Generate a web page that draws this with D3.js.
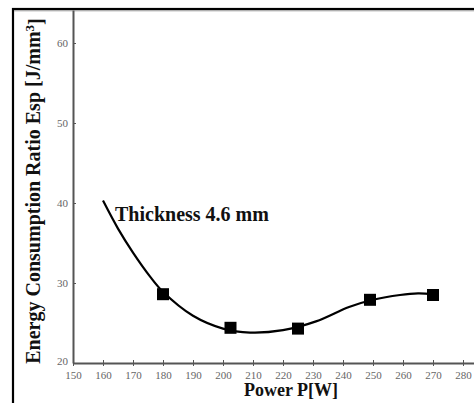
<!DOCTYPE html>
<html>
<head>
<meta charset="utf-8">
<script src="https://cdn.jsdelivr.net/npm/d3@7"></script>
<style>
html,body{margin:0;padding:0;background:#fff;overflow:hidden;}
</style>
</head>
<body>
<div id="chart"></div>
<script>
(function(){
"use strict"

var width = 474,
	height = 403,
	x0 = 73, x1 = 474,   // plot x range in px
	yBot = 363, yTop = 10;

// measured points (square markers)
var powerPts = [180, 202.5, 225, 249, 270],
	espPts   = [28.6, 24.4, 24.3, 27.9, 28.5];

// fitted curve
var curveP   = [160, 165, 170, 175.7, 180, 190, 200, 209, 220, 231, 242, 250, 259, 265, 270],
	curveEsp = [40.3, 36.8, 33.8, 30.8, 28.9, 25.9, 24.3, 23.8, 24.1, 25.2, 27.0, 27.9, 28.5, 28.7, 28.6];

var xTicks = [150,160,170,180,190,200,210,220,230,240,250,260,270,280],
	yTicks = [20,30,40,50,60];

var x = d3.scaleLinear().domain([150, 150 + (x1 - x0)/3]).range([x0, x1]),
	y = d3.scaleLinear().domain([20, 20 + (yBot - yTop)/8]).range([yBot, yTop]);

var svg = d3.select('#chart').append('svg')
	.attr('width', width)
	.attr('height', height);

svg.append('rect')
	.attr('width', width).attr('height', height)
	.style('fill', 'white');

// outer frame (only top and left edges visible)
svg.append('rect')
	.attr('x', 13).attr('y', 9)
	.attr('width', 520).attr('height', 440)
	.style('fill', 'none')
	.style('stroke', 'black')
	.style('stroke-width', 2.2);
svg.append('line')
	.attr('x1', 14).attr('x2', width).attr('y1', 10.8).attr('y2', 10.8)
	.style('stroke', '#999').style('stroke-width', 1);

// axes
var gx = svg.append('g')
	.attr('transform', 'translate(0,' + yBot + ')')
	.call(d3.axisBottom(x).tickValues(xTicks).tickSize(3).tickSizeOuter(0).tickPadding(5));
var gy = svg.append('g')
	.attr('transform', 'translate(' + x0 + ',0)')
	.call(d3.axisLeft(y).tickValues(yTicks).tickSize(4).tickSizeOuter(0).tickPadding(1));

[gx, gy].forEach(function(g){
	g.select('.domain').style('stroke', '#555').style('stroke-width', 2);
	g.selectAll('.tick line').style('stroke', '#555').style('stroke-width', 1);
	g.selectAll('.tick text')
		.style('font-family', 'Liberation Serif, serif')
		.style('font-size', '11px')
		.style('fill', '#666');
});
gx.selectAll('.tick line').attr('y1', -3);
gy.selectAll('.tick line').attr('x2', 3);
gy.selectAll('.tick').filter(function(d){return d === 20;}).select('text').attr('dy', '0.1em');

// curve
var line = d3.line()
	.x(function(d){return x(d[0]);})
	.y(function(d){return y(d[1]);})
	.curve(d3.curveCatmullRom.alpha(0.5));

svg.append('path')
	.datum(d3.zip(curveP, curveEsp))
	.attr('d', line)
	.style('fill', 'none')
	.style('stroke', 'black')
	.style('stroke-width', 2.2);

// markers
var sq = 12;
svg.selectAll('rect.pt')
	.data(d3.zip(powerPts, espPts))
	.enter()
		.append('rect')
			.attr('class', 'pt')
			.attr('x', function(d){return x(d[0]) - sq/2;})
			.attr('y', function(d){return y(d[1]) - sq/2;})
			.attr('width', sq).attr('height', sq)
			.style('fill', 'black');

// texts
svg.append('text')
	.attr('x', 115).attr('y', 221)
	.style('font-family', 'Liberation Serif, serif')
	.style('font-weight', 'bold')
	.style('font-size', '20px')
	.style('fill', '#111')
	.text('Thickness 4.6 mm');

svg.append('text')
	.attr('x', 291).attr('y', 396)
	.attr('text-anchor', 'middle')
	.style('font-family', 'Liberation Serif, serif')
	.style('font-weight', 'bold')
	.style('font-size', '18px')
	.style('fill', '#111')
	.text('Power P[W]');

var yl = svg.append('text')
	.attr('transform', 'translate(40,191) rotate(-90)')
	.attr('text-anchor', 'middle')
	.style('font-family', 'Liberation Serif, serif')
	.style('font-weight', 'bold')
	.style('font-size', '20px')
	.style('fill', '#111');
yl.append('tspan').text('Energy Consumption Ratio Esp [J/mm');
yl.append('tspan').attr('dy', '-0.45em').style('font-size', '13px').text('3');
yl.append('tspan').attr('dy', '0.45em').text(']');

})();
</script>
</body>
</html>
